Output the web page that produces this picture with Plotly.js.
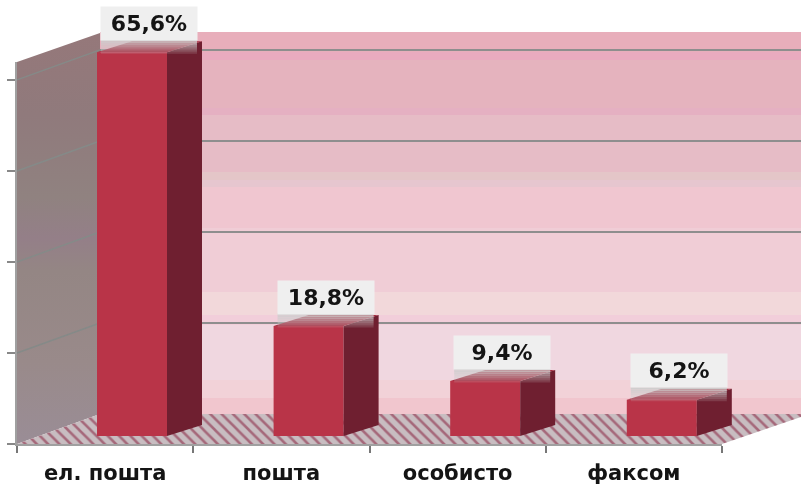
<!DOCTYPE html>
<html><head><meta charset="utf-8">
<script src="https://cdn.plot.ly/plotly-3.0.1.min.js"></script>
<style>html,body{margin:0;padding:0;background:#fff;overflow:hidden}#c{width:801px;height:486px;filter:blur(0.6px)}</style>
</head><body><div id="c"></div>
<script>
// data
const categories = ['ел. пошта','пошта','особисто','факсом'];
const shares = [65.6,18.8,9.4,6.2];
const labels = ['65,6%','18,8%','9,4%','6,2%'];
const tickStep = 15.56;
const tickCount = 4;
const bandTops =  [32,52,60,108,115,172,180,187,228,292,315,325,380,398];
const bandFills = ['#E8AEBB','#E9ABBF','#E5B3BE','#E5B0C2','#E6BCC6','#E4C6C8','#E6C6CF','#F0C6D0','#F0CDD6','#F2D8DA','#F2CEDA','#F0D7E0','#F2D2D8','#F1C6CE'];

// scene geometry (pixels of the picture)
const W=801,H=486, unitX=176.6, unitY=5.85, x0=132, base=436;
const X=p=>(p-x0)/unitX, Y=p=>(base-p)/unitY;
const barW=70/unitX, depX=35/unitX, depY=11/unitY;
const fx=p=>p/W, fy=p=>1-p/H;
const wallTop=34, wallBot=414, wallL=100, frontBot=444, frontTop=62, frontL=17, frontR=722;
const ticks=Array.from({length:tickCount},(_,k)=>(k+1)*tickStep);

const shapes=bandTops.map((t,k)=>({type:'rect',layer:'below',xref:'paper',yref:'paper',
  x0:fx(wallL),x1:1,y0:fy(t),y1:fy(k+1<bandTops.length?bandTops[k+1]:wallBot),
  fillcolor:bandFills[k],line:{width:0}}));

const traces=[];
const deco={type:'scatter',mode:'lines',showlegend:false,hoverinfo:'skip'};
// back wall grid carrier
traces.push({type:'scatter',mode:'markers',x:[0],y:[0],marker:{opacity:0},hoverinfo:'skip',showlegend:false,xaxis:'x',yaxis:'y'});
// left wall
traces.push({...deco,xaxis:'x2',yaxis:'y2',
  x:[frontL,wallL,wallL,frontL,frontL].map(X),y:[frontTop,wallTop-1,wallBot,frontBot,frontTop].map(Y),
  line:{width:0},fill:'toself',
  fillgradient:{type:'vertical',colorscale:[[0,'#9A8D96'],[0.2,'#998A8A'],[0.42,'#948684'],[0.5,'#947F88'],[0.6,'#908280'],[0.8,'#907A7C'],[1,'#95787A']]}});
// left wall grid lines
ticks.forEach(v=>{const p=frontBot-v*unitY;
  traces.push({...deco,xaxis:'x2',yaxis:'y2',
    x:[frontL,wallL].map(X),y:[p,p-30].map(Y),line:{color:'#858a88',width:1.5}});
});
// floor
traces.push({...deco,xaxis:'x2',yaxis:'y2',
  x:[frontL,frontR,W,W,wallL,frontL].map(X),y:[frontBot,frontBot,417,wallBot,wallBot,frontBot].map(Y),
  line:{width:0},fill:'toself',fillcolor:'#BDB0B5',
  fillpattern:{shape:'\\',bgcolor:'#C8BDC1',fgcolor:'#A5687A',size:8,solidity:0.32}});
// bar fronts
traces.push({type:'bar',x:shares.map((_,i)=>i),y:shares,width:barW,marker:{color:'#B93448',line:{width:0}},
  xaxis:'x3',yaxis:'y3',showlegend:false,hoverinfo:'skip'});
// bar sides and tops
shares.forEach((v,i)=>{
  const r=i+barW/2,l=i-barW/2;
  traces.push({...deco,xaxis:'x3',yaxis:'y3',
    x:[r,r+depX,r+depX,r,r],y:[0,depY,v+depY,v,0],line:{width:0},fill:'toself',fillcolor:'#6F1F30'});
  traces.push({...deco,xaxis:'x3',yaxis:'y3',
    x:[l,r,r+depX,l+depX,l],y:[v,v,v+depY,v+depY,v],line:{width:0},fill:'toself',fillcolor:'#A42C40'});
});
// front axis carrier
traces.push({type:'scatter',mode:'markers',x:categories,y:shares,marker:{opacity:0},hoverinfo:'skip',showlegend:false,xaxis:'x4',yaxis:'y4'});

// label boxes
const labelDX=17/unitX, boxW=96, boxH=33, boxGap=29;
const annotations=labels.map((t,i)=>({xref:'x3',yref:'y3',x:i+labelDX,y:shares[i],yshift:boxGap,text:t,
  showarrow:false,xanchor:'center',yanchor:'middle',width:boxW,height:boxH,bgcolor:'#EFEFEF',borderpad:0,
  font:{family:'DejaVu Sans',size:22,color:'#141414',weight:700}}));
// shadows under label boxes
shares.forEach((v,i)=>{
  const slices=7, h=14;
  for(let k=0;k<slices;k++){
    shapes.push({type:'rect',layer:'above',xref:'x3',yref:'y3',
      x0:i+labelDX-boxW/2/unitX,x1:i+labelDX+boxW/2/unitX,
      y0:v+(boxGap-boxH/2-(k+1)*h/slices)/unitY,y1:v+(boxGap-boxH/2-k*h/slices)/unitY,
      fillcolor:'rgba(205,205,205,'+(0.95-k*0.13).toFixed(2)+')',line:{width:0}});
  }
});

const axisGrey='#a0a0a0';
const hiddenX={domain:[0,1],range:[X(0),X(W)],visible:false,fixedrange:true};
const hiddenY={domain:[0,1],range:[Y(H),Y(0)],visible:false,fixedrange:true};
const layout={width:W,height:H,margin:{l:0,r:0,t:0,b:0},paper_bgcolor:'#fff',plot_bgcolor:'rgba(0,0,0,0)',showlegend:false,
  annotations,shapes,
  xaxis:{domain:[fx(wallL),1],range:[0,1],visible:false,fixedrange:true,anchor:'y'},
  yaxis:{domain:[fy(wallBot),fy(wallTop)],range:[0,(wallBot-wallTop)/unitY],tick0:0,dtick:tickStep,showgrid:true,gridcolor:'#8e8e8e',gridwidth:2,
    showticklabels:false,ticks:'',zeroline:false,showline:false,fixedrange:true,anchor:'x'},
  xaxis2:{...hiddenX,anchor:'y2'},
  yaxis2:{...hiddenY,anchor:'x2'},
  xaxis3:{...hiddenX,anchor:'y3'},
  yaxis3:{...hiddenY,anchor:'x3'},
  xaxis4:{domain:[fx(frontL),fx(frontR)],anchor:'y4',type:'category',range:[-0.5,3.5],tickson:'boundaries',ticks:'outside',ticklen:7,tickwidth:2,tickcolor:'#777',
    showline:true,linecolor:axisGrey,linewidth:2,showgrid:false,zeroline:false,ticklabelstandoff:9,
    tickfont:{family:'DejaVu Sans',size:21,color:'#141414',weight:700},fixedrange:true},
  yaxis4:{domain:[fy(frontBot),fy(frontTop)],anchor:'x4',range:[0,(frontBot-frontTop)/unitY],tick0:0,dtick:tickStep,ticks:'outside',ticklen:8,tickwidth:2,tickcolor:'#888',
    showline:true,linecolor:axisGrey,linewidth:2,showgrid:false,zeroline:false,showticklabels:false,fixedrange:true}
};
Plotly.newPlot('c',traces,layout,{displayModeBar:false,staticPlot:true});
</script></body></html>
